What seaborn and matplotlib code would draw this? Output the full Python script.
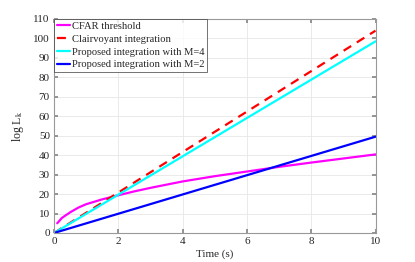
import numpy as np
import pandas as pd
import matplotlib
matplotlib.use("Agg")
import matplotlib.pyplot as plt
import seaborn as sns

# Data
cfar_t = [0.1, 0.25, 0.5, 0.75, 1.0, 1.5, 2.0, 2.5, 3.0, 4.0, 5.0, 6.0, 7.0, 8.0, 9.0, 10.0]
cfar_v = [5.0, 7.8, 10.6, 13.0, 14.8, 17.3, 19.4, 21.4, 23.2, 26.5, 29.2, 31.6, 34.0, 36.2, 38.3, 40.4]
clair_t = [0.0, 10.0]
clair_v = [0.0, 104.0]
m4_t = [0.0, 10.0]
m4_v = [0.0, 98.5]
m2_t = [0.0, 10.0]
m2_v = [0.0, 49.5]

labels = ["CFAR threshold", "Clairvoyant integration",
          "Proposed integration with M=4", "Proposed integration with M=2"]
xticks = [0, 2, 4, 6, 8, 10]
yticks = [0, 10, 20, 30, 40, 50, 60, 70, 80, 90, 100, 110]

sns.set_theme(style="whitegrid")
plt.rcParams['font.family'] = ['Liberation Serif', 'DejaVu Serif']
plt.rcParams['mathtext.fontset'] = 'stix'

fig = plt.figure(figsize=(4.15, 2.62), dpi=100)
ax = fig.add_axes([54/415, 1 - 233/262, (375.5-54)/415, (233-19)/262])

sns.lineplot(x=cfar_t, y=cfar_v, ax=ax, color="#ff00ff", lw=1.6, label=labels[0])
sns.lineplot(x=clair_t, y=clair_v, ax=ax, color="#ff0000", lw=1.6, label=labels[1],
             linestyle=(0, (4, 3)))
sns.lineplot(x=m4_t, y=m4_v, ax=ax, color="#00ffff", lw=1.6, label=labels[2])
sns.lineplot(x=m2_t, y=m2_v, ax=ax, color="#0000ff", lw=1.6, label=labels[3])

ax.set_xlim(0, 10)
ax.set_ylim(0, 110)
ax.set_xticks(xticks)
ax.set_yticks(yticks)
ax.tick_params(labelsize=8, direction='in', length=3, color='#888888', pad=3)
ax.tick_params(axis='both', which='both', top=True, right=True, bottom=True, left=True,
               labeltop=False, labelright=False)
ax.grid(True, color='#e6e6e6', lw=0.6)
for s in ax.spines.values():
    s.set_color('#999999')
    s.set_linewidth(0.8)
ax.set_facecolor('white')
ax.set_xlabel("Time (s)", fontsize=8, labelpad=2)
ax.set_ylabel(r"log L$_\mathrm{k}$", fontsize=8.5, labelpad=5)

leg = ax.legend(loc='upper left', fontsize=7.6, frameon=True, fancybox=False,
                borderaxespad=0.0, borderpad=0.25, labelspacing=0.32,
                handlelength=1.3, handletextpad=0.15)
leg.get_frame().set_edgecolor('#333333')
leg.get_frame().set_linewidth(0.6)

fig.savefig("out.png", dpi=100)
